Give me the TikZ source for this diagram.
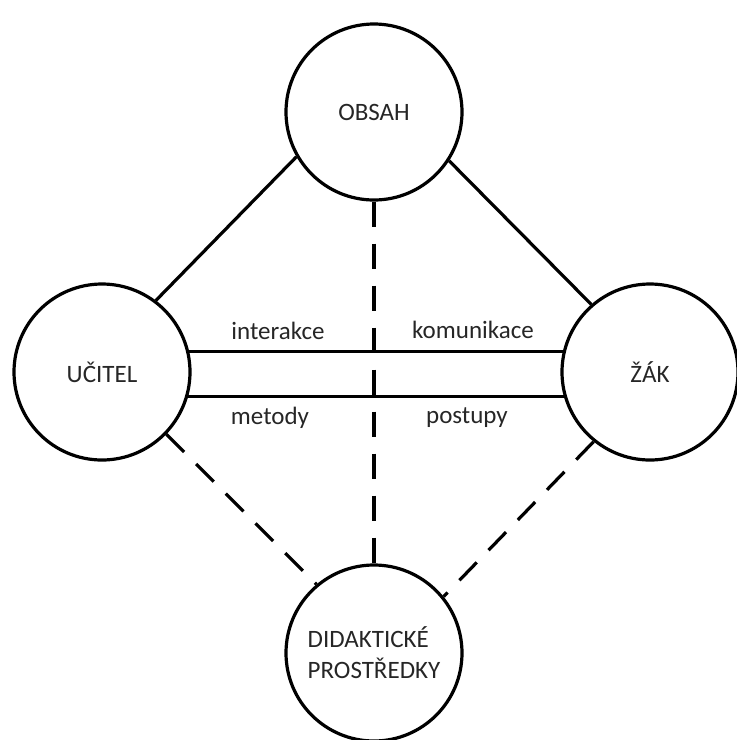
\documentclass[tikz,border=0pt]{standalone}
\usepackage{fontspec}
\setmainfont{Carlito}
\begin{document}
\begin{tikzpicture}[x=1pt,y=-1pt,
  bubble/.style={draw, circle, line width=3.2pt, minimum size=176pt, inner sep=0pt, align=left, font=\fontsize{25}{31}\selectfont, text=black!85},
  link/.style={line width=3.2pt},
  dlink/.style={line width=3.2pt, dash pattern=on 25pt off 17pt},
  lab/.style={font=\fontsize{25}{30}\selectfont, text=black!85}]
\useasboundingbox (0,0) rectangle (737,740);
\node[bubble] (O) at (374,112) {OBSAH};
\node[bubble] (U) at (102,372) {UČITEL};
\node[bubble] (Z) at (650,372) {ŽÁK};
\node[bubble] (D) at (374,653) {DIDAKTICKÉ\\PROSTŘEDKY};
\draw[link] (U.53) -- (O.210);
\draw[link] (O.-33) -- (Z.131);
\draw[dlink] (U.-44) -- (D.130);
\draw[dlink] (Z.-129) -- (D.39);
\draw[dlink] (O.south) -- (D.north);
\draw[link] (U.13) -- (Z.167);
\draw[link] (U.-16) -- (Z.-164);
\node[lab] (l1) at (278,331) {interakce};
\node[lab] (l2) at (473,330) {komunikace};
\node[lab] (l3) at (270,418) {metody};
\node[lab] (l4) at (467,418) {postupy};
\end{tikzpicture}
\end{document}
